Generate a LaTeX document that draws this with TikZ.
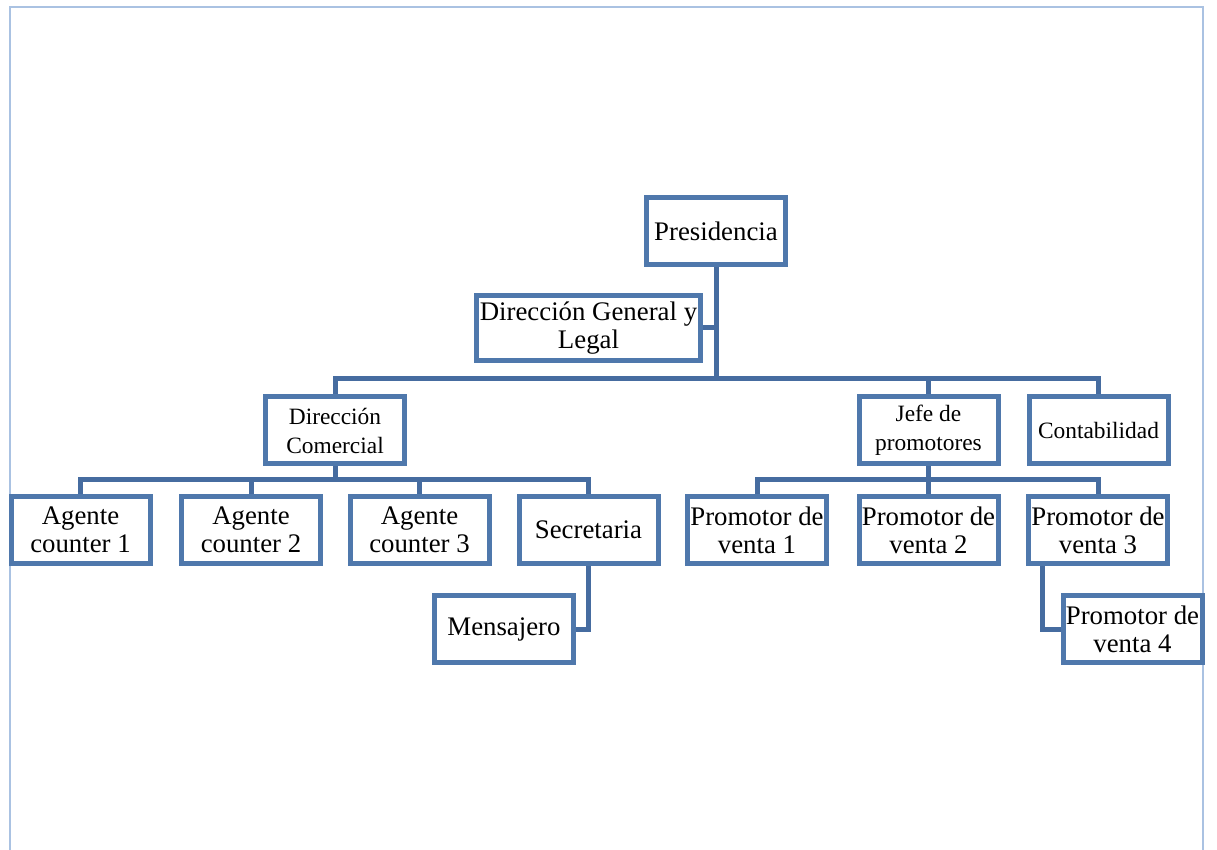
\documentclass[tikz,border=0pt]{standalone}
\usepackage{fontspec}
\setmainfont{Liberation Serif}
\usepackage{xcolor}
\usepackage{tikz}
\usetikzlibrary{backgrounds}
\definecolor{boxblue}{RGB}{79,120,172}
\definecolor{linkblue}{RGB}{70,108,160}
\definecolor{pageblue}{RGB}{170,194,226}
\tikzset{
    unit/.style={rectangle, draw=boxblue, line width=2.5pt, fill=white, minimum width=69.5pt, minimum height=33.5pt, inner sep=0pt, align=center, font=\fontsize{13.4}{14}\selectfont},
    subunit/.style={unit, font=\fontsize{11.7}{14.5}\selectfont},
    link/.style={draw=linkblue, line width=2.5pt, line cap=rect},
    page/.style={draw=pageblue, line width=1pt}
}

\begin{document}
\begin{tikzpicture}[x=0.5pt, y=-0.5pt]
    \useasboundingbox (0,0) rectangle (1217,850);
    \draw[page] (10,850) -- (10,7) -- (1203,7) -- (1203,850);

    % Top
    \node[unit] (pres) at (716,231) {Presidencia};
    \node[unit, minimum width=112pt, minimum height=32.5pt] (dgl) at (588.5,328) {Dirección General y\\Legal};
    \coordinate (bus1) at (716,379);

    % Second level
    \node[subunit] (dc) at (335,430.5) {Dirección\\Comercial};
    \node[subunit] (jefe) at (928.5,430.5) {Jefe de\\promotores};
    \node[subunit] (contab) at (1098.5,430.5) {Contabilidad};
    \coordinate (bus2l) at (335,480);
    \coordinate (bus2r) at (928.5,480);

    % Third level
    \node[unit] (ag1) at (80.5,530) {Agente\\counter 1};
    \node[unit] (ag2) at (251,530) {Agente\\counter 2};
    \node[unit] (ag3) at (419.5,530) {Agente\\counter 3};
    \node[unit] (sec) at (588.5,530) {Secretaria};
    \node[unit] (pv1) at (757,530) {Promotor de\\venta 1};
    \node[unit] (pv2) at (928.5,530) {Promotor de\\venta 2};
    \node[unit] (pv3) at (1098,530) {Promotor de\\venta 3};

    % Fourth level
    \node[unit] (mens) at (504,629) {Mensajero};
    \node[unit] (pv4) at (1132.5,629) {Promotor de\\venta 4};

    % Connections
    \begin{scope}[on background layer]
        \draw[link] (pres) -- (bus1);
        \draw[link] (dgl.east) -- (dgl.east -| bus1);
        \foreach \n in {dc,jefe,contab} \draw[link] (bus1) -| (\n.north);
        \draw[link] (dc) -- (bus2l);
        \foreach \n in {ag1,ag2,ag3,sec} \draw[link] (bus2l) -| (\n.north);
        \draw[link] (jefe) -- (bus2r);
        \foreach \n in {pv1,pv2,pv3} \draw[link] (bus2r) -| (\n.north);
        \draw[link] (sec.south) |- (mens.east);
        \draw[link] ([xshift=8pt]pv3.south west) |- (pv4.west);
    \end{scope}
\end{tikzpicture}
\end{document}
